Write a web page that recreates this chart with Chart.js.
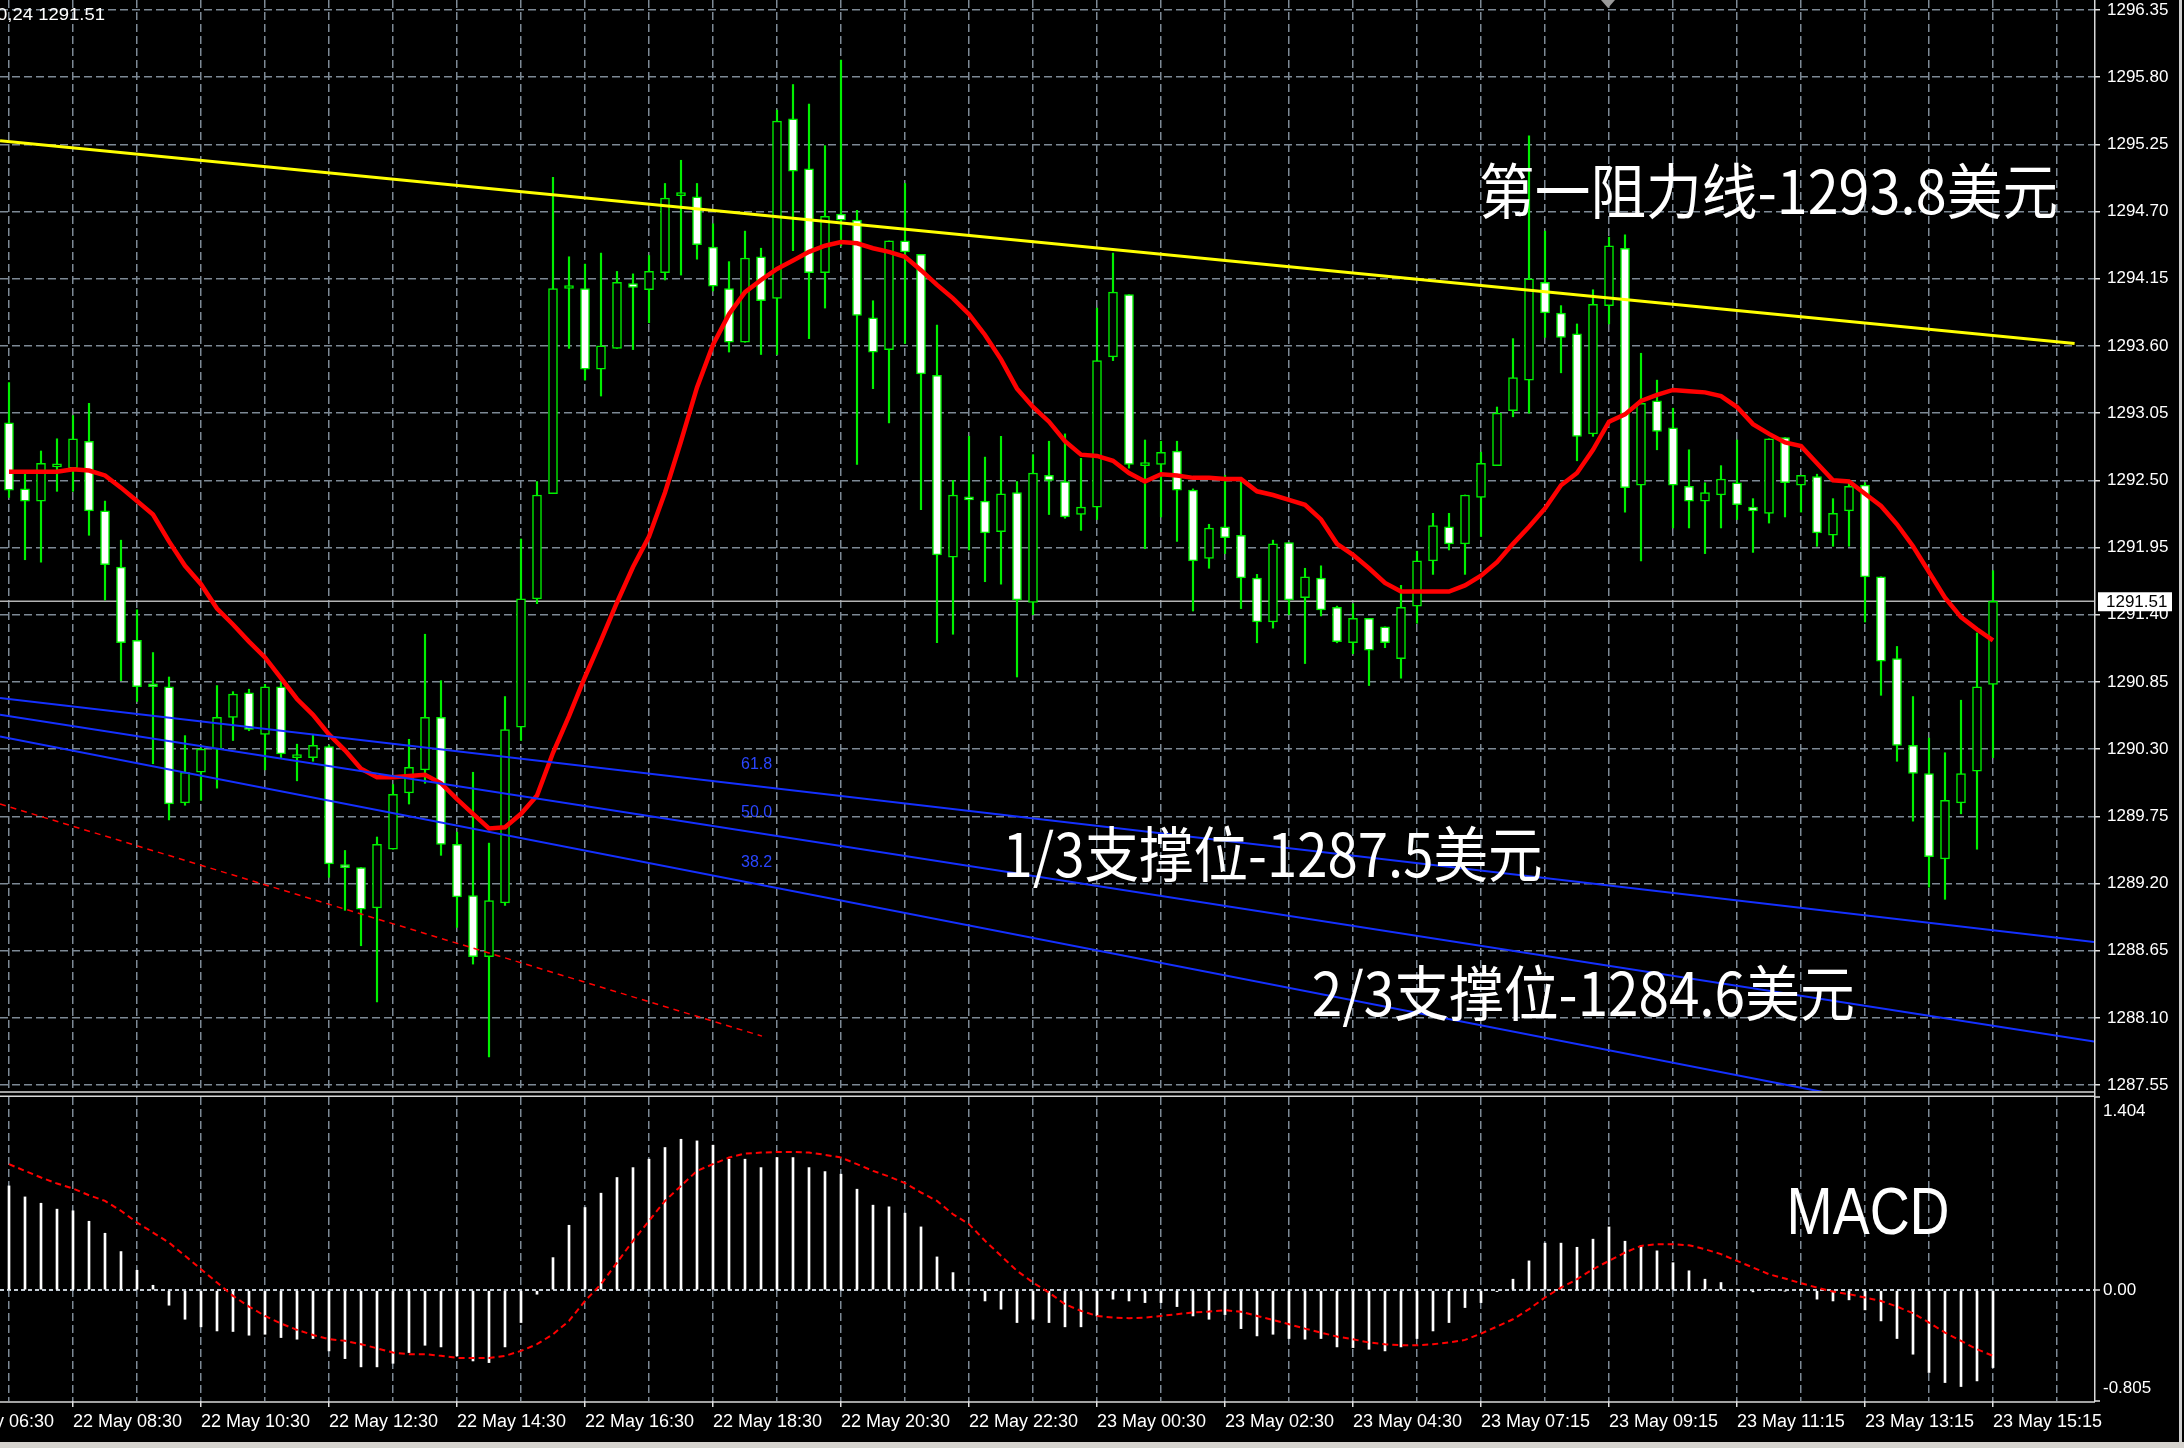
<!DOCTYPE html>
<html>
<head>
<meta charset="utf-8">
<script src="https://cdn.jsdelivr.net/npm/chart.js@4.4.1/dist/chart.umd.min.js"></script>
<style>
  html, body { margin: 0; padding: 0; background: #000; }
  body { width: 2184px; height: 1448px; position: relative; overflow: hidden; }
  canvas { position: absolute; left: 0; }
  #priceChart { top: 0; }
  #macdChart { top: 1094px; }
</style>
</head>
<body>
<canvas id="priceChart" width="2184" height="1094"></canvas>
<canvas id="macdChart" width="2184" height="354"></canvas>
<script>
// XAUUSD M15, bar 0 = 22 May 07:30
const opens = [1292.97,1292.43,1292.33,1292.61,1292.60,1292.82,1292.25,1291.79,1291.19,1290.82,
  1290.81,1289.86,1290.11,1290.30,1290.56,1290.76,1290.42,1290.81,1290.23,1290.23,
  1290.32,1289.34,1289.33,1289.00,1289.48,1289.94,1290.13,1290.56,1289.52,1289.10,
  1288.60,1289.04,1290.48,1291.53,1292.39,1294.07,1294.07,1293.41,1293.58,1294.11,
  1294.06,1294.20,1294.83,1294.82,1294.41,1294.07,1293.63,1294.33,1293.99,1295.46,
  1295.05,1294.20,1294.68,1294.63,1293.83,1293.57,1294.46,1294.35,1293.36,1291.87,
  1292.36,1292.33,1292.08,1292.40,1291.50,1292.54,1292.49,1292.22,1292.28,1293.51,
  1294.02,1292.62,1292.63,1292.74,1292.42,1291.86,1292.12,1292.05,1291.70,1291.34,
  1291.99,1291.54,1291.70,1291.46,1291.17,1291.37,1291.30,1291.04,1291.47,1291.84,
  1292.12,1291.98,1292.36,1292.62,1293.07,1293.32,1294.12,1293.87,1293.70,1292.88,
  1293.93,1294.40,1292.46,1293.15,1292.93,1292.45,1292.33,1292.38,1292.48,1292.28,
  1292.23,1292.85,1292.46,1292.53,1292.05,1292.25,1292.46,1291.71,1291.04,1290.33,
  1290.10,1289.40,1289.86,1290.12,1290.83];
const highs = [1293.30,1292.55,1292.74,1292.84,1293.03,1293.13,1292.33,1292.01,1291.44,1291.09,
  1290.89,1290.41,1290.31,1290.82,1290.77,1290.79,1290.83,1290.85,1290.34,1290.42,
  1290.33,1289.47,1289.33,1289.58,1290.01,1290.38,1291.24,1290.86,1289.62,1290.11,
  1289.53,1290.73,1292.02,1292.49,1294.98,1294.33,1294.27,1294.36,1294.21,1294.19,
  1294.34,1294.93,1295.12,1294.93,1294.60,1294.29,1294.54,1294.40,1295.53,1295.74,
  1295.58,1295.24,1295.94,1294.71,1293.97,1294.46,1294.93,1294.35,1293.77,1292.50,
  1292.86,1292.69,1292.86,1292.49,1292.71,1292.82,1292.88,1292.68,1293.91,1294.36,
  1294.02,1292.83,1292.82,1292.82,1292.43,1292.14,1292.54,1292.52,1291.73,1292.01,
  1291.99,1291.78,1291.80,1291.47,1291.49,1291.37,1291.30,1291.64,1291.92,1292.23,
  1292.23,1292.38,1292.73,1293.10,1293.66,1295.32,1294.54,1293.93,1293.78,1294.06,
  1294.49,1294.51,1293.54,1293.32,1293.09,1292.75,1292.48,1292.62,1292.83,1292.35,
  1292.84,1292.85,1292.54,1292.55,1292.35,1292.49,1292.48,1291.71,1291.14,1290.73,
  1290.39,1290.27,1290.70,1291.25,1291.76];
const lows = [1292.36,1291.85,1291.83,1292.41,1292.41,1292.05,1291.52,1290.86,1290.69,1290.18,
  1289.72,1289.84,1289.88,1289.98,1290.37,1290.45,1290.13,1290.23,1290.04,1290.20,
  1289.25,1288.98,1288.69,1288.23,1289.48,1289.85,1290.02,1289.43,1288.84,1288.54,
  1287.78,1289.02,1290.37,1291.49,1292.39,1293.58,1293.32,1293.19,1293.58,1293.57,
  1293.79,1294.14,1294.18,1294.31,1294.05,1293.55,1293.63,1293.53,1293.53,1294.38,
  1293.66,1293.91,1294.42,1292.63,1293.25,1292.97,1293.62,1292.26,1291.17,1291.24,
  1291.93,1291.67,1291.65,1290.89,1291.40,1292.22,1292.19,1292.09,1292.18,1293.48,
  1292.60,1291.94,1292.20,1292.00,1291.43,1291.78,1291.90,1291.45,1291.17,1291.29,
  1291.40,1291.00,1291.39,1291.17,1291.08,1290.82,1291.13,1290.88,1291.33,1291.73,
  1291.93,1291.73,1292.04,1292.62,1293.02,1293.05,1293.67,1293.38,1292.66,1292.86,
  1293.78,1292.24,1291.84,1292.75,1292.11,1292.11,1291.90,1292.11,1292.18,1291.91,
  1292.15,1292.20,1292.24,1291.96,1291.96,1291.96,1291.34,1290.74,1290.20,1289.71,
  1289.17,1289.07,1289.77,1289.48,1290.23];
const closes = [1292.42,1292.33,1292.64,1292.63,1292.84,1292.25,1291.81,1291.17,1290.81,1290.81,
  1289.85,1290.11,1290.30,1290.56,1290.75,1290.46,1290.81,1290.26,1290.24,1290.33,
  1289.36,1289.33,1288.99,1289.52,1289.93,1290.15,1290.56,1289.52,1289.09,1288.60,
  1289.06,1290.46,1291.53,1292.38,1294.07,1294.08,1293.41,1293.60,1294.12,1294.08,
  1294.21,1294.81,1294.85,1294.43,1294.09,1293.63,1294.32,1293.97,1295.44,1295.03,
  1294.20,1294.66,1294.63,1293.85,1293.55,1294.46,1294.37,1293.37,1291.89,1292.38,
  1292.34,1292.07,1292.39,1291.52,1292.56,1292.50,1292.20,1292.28,1293.48,1294.04,
  1292.63,1292.63,1292.73,1292.42,1291.84,1292.11,1292.03,1291.70,1291.34,1291.98,
  1291.52,1291.71,1291.44,1291.18,1291.37,1291.11,1291.17,1291.46,1291.84,1292.13,
  1291.98,1292.38,1292.64,1293.05,1293.34,1294.15,1293.87,1293.67,1292.86,1293.94,
  1294.42,1292.44,1293.13,1292.90,1292.46,1292.33,1292.40,1292.51,1292.30,1292.25,
  1292.84,1292.48,1292.54,1292.07,1292.23,1292.45,1291.71,1291.02,1290.33,1290.10,
  1289.42,1289.88,1290.10,1290.81,1291.51];
const maValues = [1292.57,1292.57,1292.57,1292.57,1292.59,1292.58,1292.54,1292.44,1292.33,1292.22,
  1292.00,1291.80,1291.65,1291.45,1291.32,1291.18,1291.05,1290.88,1290.71,1290.58,
  1290.42,1290.29,1290.14,1290.07,1290.07,1290.08,1290.09,1290.02,1289.89,1289.77,
  1289.65,1289.66,1289.77,1289.92,1290.27,1290.57,1290.89,1291.19,1291.50,1291.79,
  1292.04,1292.40,1292.82,1293.26,1293.61,1293.86,1294.04,1294.14,1294.23,1294.30,
  1294.37,1294.42,1294.45,1294.44,1294.40,1294.37,1294.33,1294.22,1294.10,1293.99,
  1293.86,1293.69,1293.49,1293.25,1293.10,1292.98,1292.82,1292.71,1292.70,1292.66,
  1292.56,1292.49,1292.55,1292.54,1292.52,1292.52,1292.51,1292.51,1292.41,1292.38,
  1292.34,1292.30,1292.18,1291.98,1291.89,1291.78,1291.66,1291.59,1291.59,1291.59,
  1291.59,1291.64,1291.72,1291.83,1291.98,1292.12,1292.27,1292.46,1292.56,1292.75,
  1292.98,1293.04,1293.15,1293.20,1293.24,1293.23,1293.22,1293.19,1293.10,1292.96,
  1292.88,1292.81,1292.78,1292.64,1292.50,1292.49,1292.39,1292.29,1292.14,1291.96,
  1291.75,1291.54,1291.38,1291.28,1291.19];
const macdValues = [0.758,0.678,0.632,0.589,0.577,0.501,0.414,0.281,0.145,0.036,
  -0.109,-0.211,-0.266,-0.296,-0.300,-0.327,-0.320,-0.344,-0.356,-0.351,
  -0.441,-0.497,-0.557,-0.557,-0.531,-0.453,-0.400,-0.412,-0.477,-0.514,
  -0.526,-0.412,-0.235,-0.029,0.237,0.472,0.601,0.705,0.819,0.891,
  0.952,1.037,1.097,1.085,1.054,0.952,0.952,0.891,0.964,0.964,
  0.891,0.862,0.843,0.734,0.618,0.606,0.560,0.460,0.242,0.128,
  0.003,-0.078,-0.138,-0.235,-0.211,-0.235,-0.266,-0.266,-0.187,-0.065,
  -0.078,-0.090,-0.090,-0.119,-0.187,-0.211,-0.177,-0.279,-0.332,-0.320,
  -0.351,-0.356,-0.351,-0.412,-0.417,-0.429,-0.441,-0.412,-0.351,-0.296,
  -0.235,-0.126,-0.090,-0.010,0.080,0.213,0.342,0.342,0.312,0.371,
  0.460,0.356,0.322,0.286,0.200,0.141,0.080,0.056,0.005,-0.012,
  0.005,-0.005,0.003,-0.065,-0.078,-0.070,-0.143,-0.223,-0.351,-0.465,
  -0.598,-0.671,-0.700,-0.659,-0.562];
const signalValues = [0.916,0.867,0.819,0.775,0.739,0.690,0.649,0.577,0.492,0.419,
  0.346,0.250,0.153,0.056,-0.041,-0.119,-0.187,-0.242,-0.288,-0.325,
  -0.356,-0.368,-0.392,-0.422,-0.453,-0.465,-0.465,-0.477,-0.492,-0.492,
  -0.492,-0.477,-0.441,-0.392,-0.320,-0.223,-0.078,0.044,0.201,0.359,
  0.504,0.649,0.758,0.867,0.916,0.964,0.993,1.000,1.005,1.005,
  1.000,0.984,0.964,0.916,0.867,0.826,0.778,0.710,0.649,0.552,
  0.480,0.359,0.250,0.141,0.056,-0.017,-0.102,-0.150,-0.187,-0.199,
  -0.203,-0.199,-0.187,-0.174,-0.162,-0.155,-0.145,-0.157,-0.187,-0.216,
  -0.247,-0.279,-0.308,-0.337,-0.356,-0.380,-0.392,-0.400,-0.400,-0.392,
  -0.380,-0.361,-0.315,-0.264,-0.211,-0.138,-0.053,0.019,0.080,0.153,
  0.213,0.274,0.322,0.334,0.334,0.327,0.298,0.262,0.213,0.165,
  0.116,0.085,0.051,0.019,-0.010,-0.029,-0.053,-0.078,-0.119,-0.167,
  -0.235,-0.308,-0.368,-0.429,-0.477];

const priceTicks = [1287.55,1288.10,1288.65,1289.20,1289.75,1290.30,1290.85,1291.40,1291.95,
  1292.50,1293.05,1293.60,1294.15,1294.70,1295.25,1295.80,1296.35];
const macdTicks = [-0.805, 0, 1.404];
const gridBars = [0,4,8,12,16,20,24,28,32,36,40,44,48,52,56,60,64,68,72,76,80,84,88,92,96,100,104,108,112,116,120,124,128];
const timeLabels = ['22 May 06:30','22 May 08:30','22 May 10:30','22 May 12:30','22 May 14:30','22 May 16:30',
  '22 May 18:30','22 May 20:30','22 May 22:30','23 May 00:30','23 May 02:30','23 May 04:30',
  '23 May 07:15','23 May 09:15','23 May 11:15','23 May 13:15','23 May 15:15'];

// drawn objects: [bar index, price] end points
const trendLine = [[-0.56, 1295.28], [129.1, 1293.62]];
const fibLines = [
  [[-0.5625, 1290.718], [130.3125, 1288.721]],
  [[-0.5625, 1290.581], [130.3125, 1287.907]],
  [[-0.5625, 1290.404], [130.3125, 1287.060]]
];
const fibLevels = ['61.8', '50.0', '38.2'];
const redDashLine = [[-0.5625, 1289.85], [47.06, 1287.95]];
const currentPrice = 1291.51;
const noteTexts = ['第一阻力线-1293.8美元', '1/3支撑位-1287.5美元', '2/3支撑位-1284.6美元'];

const xMin = -0.5625, xMax = 130.3125;
const gridColor = '#7d8995';
const candleGreen = '#00f000';

const toPts = seg => seg.map(p => ({ x: p[0], y: p[1] }));

function drawFitted(ctx, text, x, y, width, font, color) {
    ctx.save();
    ctx.font = font;
    const k = width / ctx.measureText(text).width;
    ctx.translate(x, y);
    ctx.scale(k, 1);
    ctx.fillStyle = color;
    ctx.textAlign = 'left';
    ctx.textBaseline = 'middle';
    ctx.fillText(text, 0, 0);
    ctx.restore();
}

const priceDecor = {
    id: 'priceDecor',
    afterDatasetsDraw(chart) {
        const { ctx, chartArea: a, scales: { x, y } } = chart;
        ctx.save();

        // fib level labels
        ctx.font = '16px "Liberation Sans"';
        ctx.fillStyle = '#2a46ff';
        ctx.textBaseline = 'middle';
        const fibLabelPrices = [1290.17, 1289.78, 1289.37];
        fibLevels.forEach((t, i) => ctx.fillText(t, x.getPixelForValue(45.75), y.getPixelForValue(fibLabelPrices[i])));

        // annotations
        const notes = [
            { bar: 91.88, price: 1294.87, w: 579 },
            { bar: 62.1, price: 1289.44, w: 540 },
            { bar: 81.42, price: 1288.30, w: 543 }
        ];
        notes.forEach((n, i) => drawFitted(ctx, noteTexts[i], x.getPixelForValue(n.bar), y.getPixelForValue(n.price),
            n.w, '60px "Noto Sans CJK SC"', '#ffffff'));

        // borders
        ctx.strokeStyle = '#d8d8d8';
        ctx.lineWidth = 1.5;
        ctx.beginPath();
        ctx.moveTo(a.right + 0.75, 0);
        ctx.lineTo(a.right + 0.75, chart.height);
        ctx.moveTo(0, a.bottom + 1);
        ctx.lineTo(a.right, a.bottom + 1);
        ctx.stroke();

        // bid label on the price axis
        const py = y.getPixelForValue(currentPrice);
        ctx.fillStyle = '#ffffff';
        ctx.fillRect(a.right + 4, py - 9, 74, 19);
        ctx.fillStyle = '#000000';
        ctx.font = '17px "Liberation Sans"';
        ctx.textBaseline = 'middle';
        ctx.fillText(currentPrice.toFixed(2), a.right + 12, py + 1);

        // header
        drawFitted(ctx, '0,24 ' + currentPrice.toFixed(2), -3, 15, 108, '17px "Liberation Sans"', '#ffffff');

        // shift marker
        ctx.fillStyle = '#9a9a9a';
        ctx.beginPath();
        ctx.moveTo(1601, 0);
        ctx.lineTo(1615, 0);
        ctx.lineTo(1608, 8);
        ctx.closePath();
        ctx.fill();

        // window edge
        ctx.fillStyle = '#d0d0d0';
        ctx.fillRect(2179, 0, 3, chart.height);
        ctx.restore();
    }
};

const macdDecor = {
    id: 'macdDecor',
    afterDatasetsDraw(chart) {
        const { ctx, chartArea: a, scales: { x, y } } = chart;
        ctx.save();
        ctx.strokeStyle = '#d8d8d8';
        ctx.lineWidth = 1.5;
        ctx.beginPath();
        ctx.moveTo(0, a.top - 0.75);
        ctx.lineTo(a.right + 1, a.top - 0.75);
        ctx.moveTo(a.right + 0.75, 0);
        ctx.lineTo(a.right + 0.75, a.bottom + 1);
        ctx.moveTo(0, a.bottom + 1);
        ctx.lineTo(a.right + 1, a.bottom + 1);
        ctx.stroke();

        // axis labels, kept inside the panel like the terminal does
        ctx.font = '17px "Liberation Sans"';
        ctx.fillStyle = '#ffffff';
        ctx.textBaseline = 'middle';
        macdTicks.forEach(v => {
            const py = Math.min(Math.max(y.getPixelForValue(v), a.top + 14), a.bottom - 13);
            ctx.fillText(v === 0 ? '0.00' : v.toFixed(3), a.right + 9, py);
        });

        drawFitted(ctx, 'MACD', x.getPixelForValue(111.1), y.getPixelForValue(0.542), 163, '66px "Liberation Sans"', '#ffffff');

        ctx.fillStyle = '#d0d0d0';
        ctx.fillRect(2179, 0, 3, chart.height);
        ctx.fillStyle = '#d6d3ce';
        ctx.fillRect(0, chart.height - 6, chart.width, 6);
        ctx.restore();
    }
};

const xGrid = {
    color: gridColor,
    lineWidth: 1.5,
    offset: false
};

const priceChart = new Chart(document.getElementById('priceChart'), {
    type: 'bar',
    data: {
        datasets: [
            {
                type: 'line', label: 'trend', data: toPts(trendLine),
                borderColor: '#ffff00', borderWidth: 3, pointRadius: 0, order: 0
            },
            ...fibLines.map(seg => ({
                type: 'line', label: 'fib', data: toPts(seg),
                borderColor: '#1430ff', borderWidth: 2, pointRadius: 0, order: 1
            })),
            {
                type: 'line', label: 'channel', data: toPts(redDashLine),
                borderColor: '#ff0000', borderWidth: 1.5, borderDash: [6, 5], pointRadius: 0, order: 2
            },
            {
                type: 'line', label: 'MA', data: maValues.map((v, i) => ({ x: i, y: v })),
                borderColor: '#ff0000', borderWidth: 4.5, pointRadius: 0, order: 3
            },
            {
                label: 'body', data: opens.map((o, i) => ({ x: i, y: [o, closes[i]] })),
                backgroundColor: opens.map((o, i) => closes[i] >= o ? '#000000' : '#ffffff'),
                borderColor: candleGreen, borderWidth: 1.5, borderSkipped: false,
                barThickness: 9, minBarLength: 3, grouped: false, order: 4
            },
            {
                label: 'wick', data: lows.map((l, i) => ({ x: i, y: [l, highs[i]] })),
                backgroundColor: candleGreen, barThickness: 1.5, grouped: false, order: 5
            },
            {
                type: 'line', label: 'bid', data: [{ x: xMin, y: currentPrice }, { x: xMax, y: currentPrice }],
                borderColor: '#b4b4b4', borderWidth: 1.5, pointRadius: 0, order: 6
            }
        ]
    },
    options: {
        responsive: false,
        animation: false,
        devicePixelRatio: 1,
        events: [],
        layout: { padding: 0 },
        plugins: { legend: { display: false }, tooltip: { enabled: false } },
        scales: {
            x: {
                type: 'linear', min: xMin, max: xMax, offset: false,
                afterBuildTicks: s => { s.ticks = gridBars.map(v => ({ value: v })); },
                afterFit: s => { s.height = 3; s.paddingLeft = 0; s.paddingRight = 0; },
                ticks: { display: false },
                grid: { ...xGrid, drawTicks: false },
                border: { display: false, dash: [8, 4] }
            },
            y: {
                position: 'right', min: 1287.5009, max: 1296.4319, beginAtZero: false,
                afterBuildTicks: s => { s.ticks = priceTicks.map(v => ({ value: v })); },
                afterFit: s => { s.width = 90; s.paddingTop = 0; s.paddingBottom = 0; },
                ticks: {
                    color: '#ffffff', autoSkip: false, padding: 7,
                    font: { family: 'Liberation Sans', size: 17 },
                    callback: v => v.toFixed(2)
                },
                grid: { color: gridColor, lineWidth: 1.5, tickColor: '#e0e0e0', tickLength: 6, tickWidth: 1.5, tickBorderDash: [] },
                border: { display: false, dash: [8, 4] }
            }
        }
    },
    plugins: [priceDecor]
});

const macdChart = new Chart(document.getElementById('macdChart'), {
    type: 'bar',
    data: {
        datasets: [
            {
                type: 'line', label: 'signal', data: signalValues.map((v, i) => ({ x: i, y: v })),
                borderColor: '#ff0000', borderWidth: 2, borderDash: [6, 4], pointRadius: 0, order: 0
            },
            {
                label: 'MACD', data: macdValues.map((v, i) => ({ x: i, y: v })),
                backgroundColor: '#ffffff', barThickness: 2, grouped: false, order: 1
            }
        ]
    },
    options: {
        responsive: false,
        animation: false,
        devicePixelRatio: 1,
        events: [],
        layout: { padding: { top: 3, left: 0, right: 0, bottom: 0 } },
        plugins: { legend: { display: false }, tooltip: { enabled: false } },
        scales: {
            x: {
                type: 'linear', min: xMin, max: xMax, offset: false,
                afterBuildTicks: s => { s.ticks = [-4, ...gridBars].map(v => ({ value: v })); },
                afterFit: s => { s.height = 47; s.paddingLeft = 0; s.paddingRight = 0; },
                ticks: {
                    color: '#ffffff', autoSkip: false, maxRotation: 0, align: 'start', padding: 4,
                    font: { family: 'Liberation Sans', size: 18 },
                    callback: v => {
                        const k = (v + 4) / 8;
                        return Number.isInteger(k) ? timeLabels[k] : '';
                    }
                },
                grid: {
                    ...xGrid,
                    tickLength: 6, tickWidth: 1.5, tickBorderDash: [],
                    tickColor: c => (c.tick && Number.isInteger((c.tick.value + 4) / 8)) ? '#e0e0e0' : 'rgba(0,0,0,0)'
                },
                border: { display: false, dash: [8, 4] }
            },
            y: {
                position: 'right', min: -0.805, max: 1.404, beginAtZero: false,
                afterBuildTicks: s => { s.ticks = macdTicks.map(v => ({ value: v })); },
                afterFit: s => { s.width = 90; s.paddingTop = 0; s.paddingBottom = 0; },
                ticks: { display: false },
                grid: {
                    color: c => (c.tick && c.tick.value === 0) ? '#c4ccd4' : 'rgba(0,0,0,0)',
                    lineWidth: 2, tickLength: 6, tickWidth: 1.5, tickColor: '#e0e0e0', tickBorderDash: []
                },
                border: { display: false, dash: [4, 3] }
            }
        }
    },
    plugins: [macdDecor]
});
</script>
</body>
</html>
